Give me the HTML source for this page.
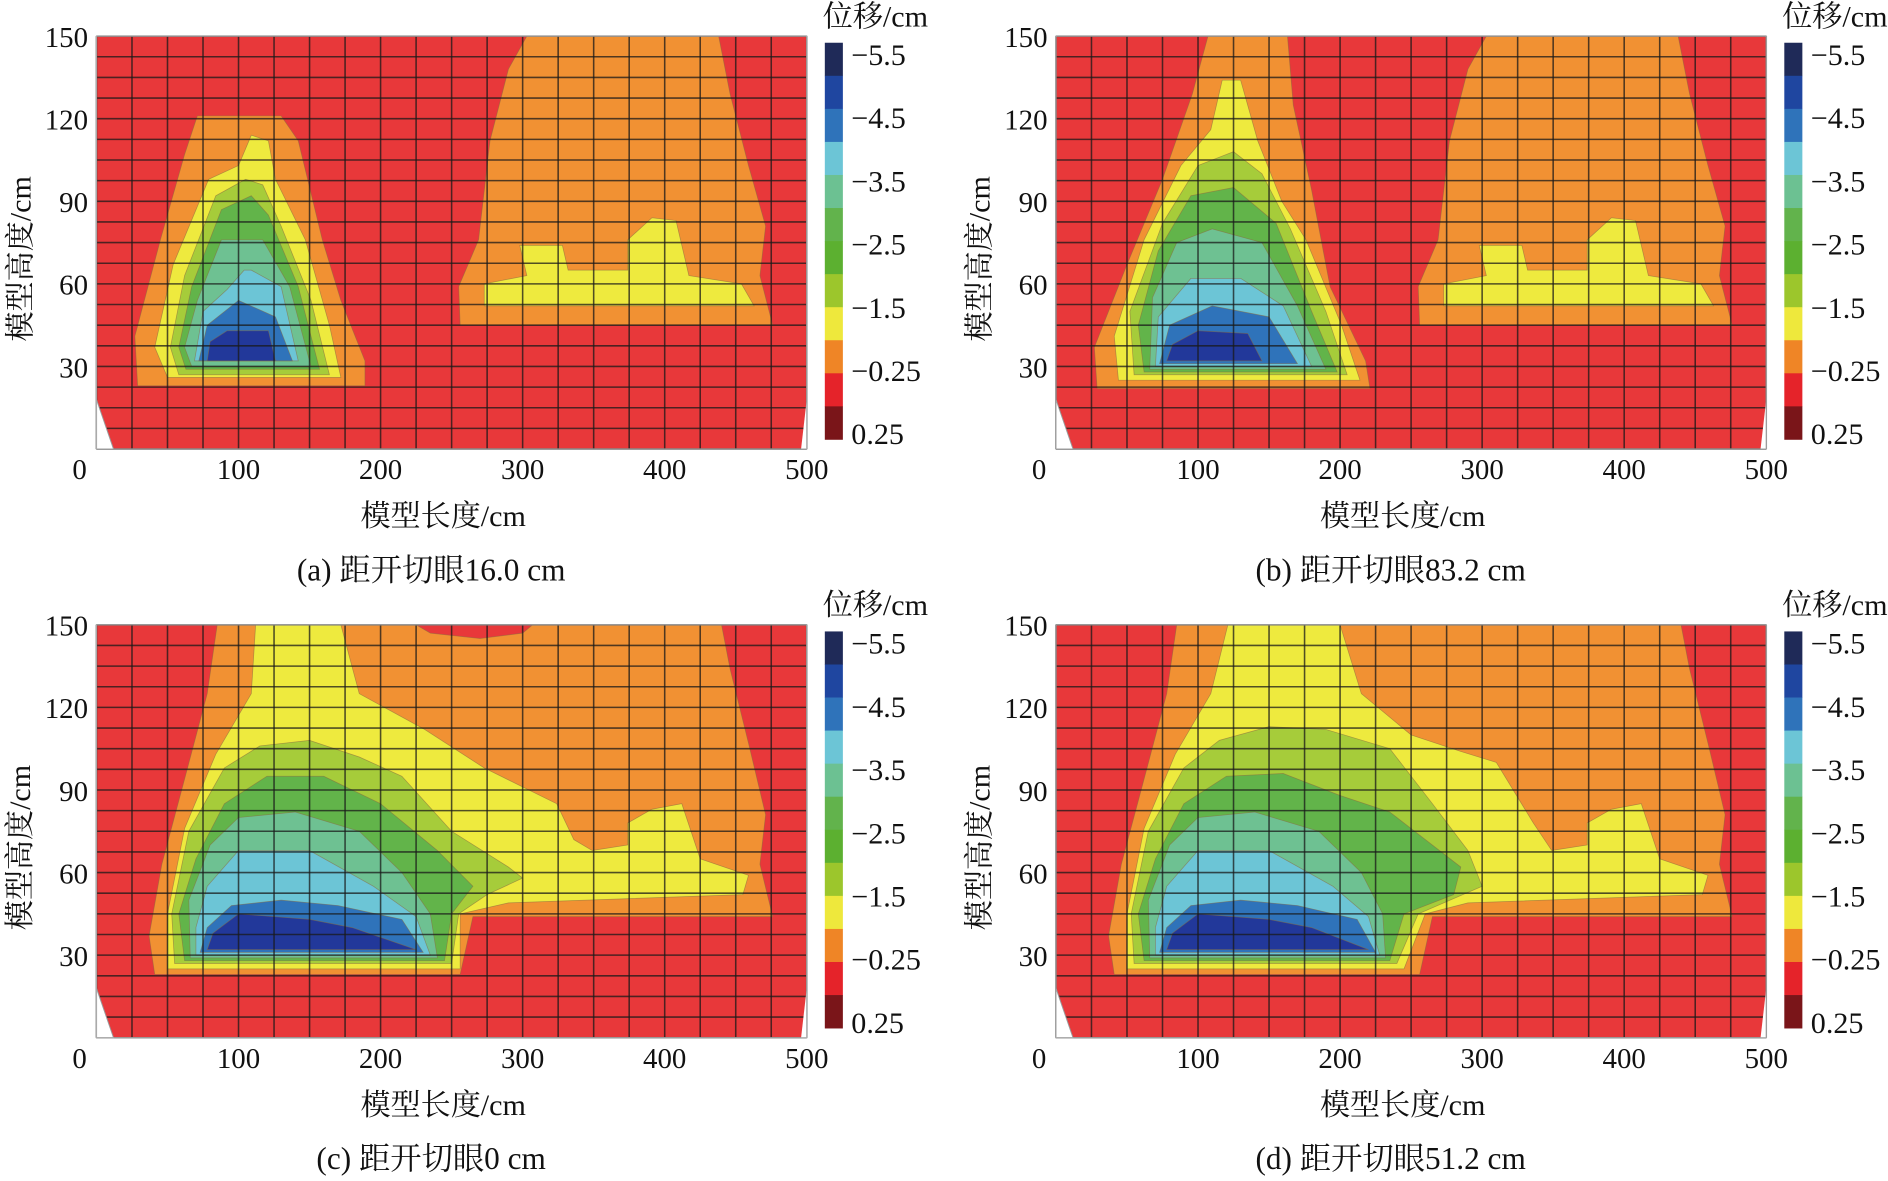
<!DOCTYPE html>
<html><head><meta charset="utf-8">
<style>
html,body{margin:0;padding:0;background:#fff;}
svg{display:block;}
text{font-family:"Liberation Serif","Noto Serif CJK SC",serif;fill:#111;}
</style></head>
<body>
<svg id="fig" width="1888" height="1181" viewBox="0 0 1568 981" xmlns="http://www.w3.org/2000/svg"></svg>
<script>
// ---- data ----
const xTicks=[0,100,200,300,400,500];
const yTicks=[30,60,90,120,150];
const cbLabels=["-5.5","-4.5","-3.5","-2.5","-1.5","-0.25","0.25"];
const cbColors=["#1f2a58","#1f46a0","#2f73ba","#6cc5d6","#6cc192","#62b34c","#5cb030","#9cc62c","#eee83c","#ef8526","#e5232a","#7a1519"];
const levelColors={red:"#e8383a",orange:"#f19133",yellow:"#eeea3e",lime:"#a6cc3a",green:"#62b44a",teal:"#6ec192",cyan:"#6cc5d6",blue:"#2f73ba",navy:"#22389a"};
const captions=["(a)  距开切眼16.0 cm","(b)  距开切眼83.2 cm","(c)  距开切眼0 cm","(d)  距开切眼51.2 cm"];
const rightOrangeAB=[[256,45],[476,45],[467,63],[471,81],[459,103],[446,129],[438,150],[303,150],[290,138],[277,112],[269,76],[255,59]];
const rightYellowAB=[[273,52],[463,52],[454,60],[417,63],[408,83],[391,84],[374,76],[374,65],[332,65],[328,74],[298,74],[303,63],[273,60]];
const panelA=[
 ["orange",[[29,23],[189,23],[189,32],[172,54],[159,76],[142,112],[130,121],[71,121],[62,107],[45,76],[27,41]]],
 ["orange",rightOrangeAB],["yellow",rightYellowAB],
 ["yellow",[[50,26],[172,26],[164,45],[147,76],[126,98],[121,112],[109,114],[100,103],[79,98],[54,67],[41,37]]],
 ["lime",[[58,27],[164,27],[151,54],[130,81],[117,96],[105,98],[84,92],[62,63],[52,37]]],
 ["green",[[63,29],[157,29],[142,59],[121,85],[109,92],[88,87],[67,59],[58,37]]],
 ["teal",[[67,30],[151,30],[136,59],[117,76],[88,76],[71,54],[62,37]]],
 ["cyan",[[69,32],[142,32],[130,59],[109,65],[104,65],[92,58],[75,50]]],
 ["blue",[[72,32],[138,32],[126,48],[100,54],[78,45]]],
 ["navy",[[78,32],[126,32],[121,43],[92,43],[80,39]]]
];
const panelB=[
 ["orange",[[29,22],[221,22],[218,32],[193,59],[180,94],[167,125],[163,150],[107,150],[96,129],[75,98],[50,67],[27,37]]],
 ["orange",rightOrangeAB],["yellow",rightYellowAB],
 ["yellow",[[44,25],[214,25],[201,45],[176,76],[159,90],[142,112],[130,134],[117,134],[109,116],[88,103],[62,76],[41,41]]],
 ["lime",[[55,27],[205,27],[190,50],[165,80],[145,100],[125,108],[100,103],[75,82],[52,50]]],
 ["green",[[62,28],[198,28],[180,50],[155,82],[125,95],[95,92],[72,72],[58,45]]],
 ["teal",[[66,29],[190,29],[170,52],[145,75],[110,80],[85,75],[68,55]]],
 ["cyan",[[70,30],[180,30],[160,52],[130,62],[95,62],[72,48]]],
 ["blue",[[73,31],[170,31],[150,48],[110,52],[80,45]]],
 ["navy",[[78,32],[145,32],[135,42],[100,43],[82,38]]]
];
const orangeCD=[[41,23],[256,23],[265,44],[476,44],[467,63],[471,81],[459,107],[446,134],[440,150],[85,150],[78,125],[62,94],[46,63],[37,37]];
const panelC=[
 ["orange",orangeCD],
 ["red",[[225,150],[307,150],[300,147],[270,145],[235,147]]],
 ["yellow",[[50,25],[256,25],[256,45],[290,49],[455,52],[459,59],[425,65],[412,85],[391,83],[374,78],[374,70],[349,68],[336,72],[324,85],[273,98],[231,112],[185,125],[172,150],[112,150],[109,125],[84,103],[62,76],[50,45]]],
 ["lime",[[55,27],[250,27],[255,45],[275,52],[300,58],[290,62],[250,75],[215,95],[185,102],[150,108],[115,106],[90,98],[65,75],[53,45]]],
 ["green",[[62,28],[245,28],[250,45],[265,55],[240,68],[200,85],[160,95],[120,95],[90,85],[70,65],[58,45]]],
 ["teal",[[66,29],[240,29],[235,45],[215,60],[185,75],[140,82],[100,80],[80,70],[65,50]]],
 ["cyan",[[70,30],[235,30],[225,44],[195,55],[150,68],[100,68],[78,55],[70,40]]],
 ["blue",[[73,31],[230,31],[215,43],[170,48],[130,50],[95,48],[78,40]]],
 ["navy",[[78,32],[225,32],[180,40],[150,43],[100,45],[82,38]]]
];
const panelD=[
 ["orange",orangeCD],
 ["yellow",[[50,25],[245,25],[260,45],[290,49],[455,52],[459,59],[425,65],[412,85],[391,83],[374,78],[374,70],[349,68],[336,78],[310,100],[285,104],[250,110],[215,125],[200,150],[121,150],[109,125],[84,103],[62,76],[50,45]]],
 ["lime",[[55,27],[240,27],[255,45],[300,55],[290,68],[265,85],[235,105],[190,112],[150,113],[115,108],[90,98],[65,75],[53,45]]],
 ["green",[[62,28],[235,28],[245,45],[280,52],[285,62],[260,72],[235,82],[200,88],[160,96],[120,95],[90,85],[70,65],[58,45]]],
 ["teal",[[66,29],[232,29],[230,45],[215,60],[185,75],[140,82],[100,80],[80,70],[65,50]]],
 ["cyan",[[70,30],[228,30],[220,44],[195,55],[150,68],[100,68],[78,55],[70,40]]],
 ["blue",[[73,31],[225,31],[212,43],[170,48],[130,50],[95,48],[78,40]]],
 ["navy",[[78,32],[220,32],[180,40],[150,43],[100,45],[82,38]]]
];
const panels=[[0,0,panelA],[797,0,panelB],[0,489,panelC],[797,489,panelD]];

// ---- drawing ----
const NS="http://www.w3.org/2000/svg";
const svg=document.getElementById('fig');
function mk(tag,attrs,parent){const e=document.createElementNS(NS,tag);for(const k in attrs)e.setAttribute(k,attrs[k]);(parent||svg).appendChild(e);return e;}
const PX0=80,PX1=670,PY0=30,PY1=373;
panels.forEach((p,i)=>{
 const ox=p[0],oy=p[1],layers=p[2];
 const xs=v=>ox+PX0+v*(PX1-PX0)/500;
 const ys=v=>oy+PY1-v*(PY1-PY0)/150;
 const g=mk('g',{});
 
 
 const bg=mk('rect',{x:xs(0),y:ys(150),width:xs(500)-xs(0),height:ys(0)-ys(150),fill:'#e8383a'},g);
 
 
 layers.forEach(l=>{
  const pts=l[1].map(q=>xs(q[0]).toFixed(1)+','+ys(q[1]).toFixed(1)).join(' ');
  const poly=mk('polygon',{points:pts,fill:levelColors[l[0]],stroke:'#8a6a40','stroke-width':0.6,'stroke-opacity':0.6},g);
  
  
 });
 // grid
 for(let k=0;k<=20;k++){const x=xs(k*25);mk('line',{x1:x,x2:x,y1:ys(0),y2:ys(150),stroke:'#1a1a1a','stroke-opacity':0.75,'stroke-width':1.3},g);}
 for(let k=0;k<=20;k++){const y=ys(k*7.5);mk('line',{x1:xs(0),x2:xs(500),y1:y,y2:y,stroke:'#1a1a1a','stroke-opacity':0.75,'stroke-width':1.3},g);}
 // white corners
 mk('polygon',{points:`${xs(0)},${ys(18)} ${xs(0)},${ys(0)} ${xs(12)},${ys(0)}`,fill:'#fff',stroke:'#999','stroke-width':0.8},g);
 mk('polygon',{points:`${xs(500)},${ys(18)} ${xs(500)},${ys(0)} ${xs(496)},${ys(0)}`,fill:'#fff'},g);
 mk('rect',{x:xs(0),y:ys(150),width:xs(500)-xs(0),height:ys(0)-ys(150),fill:'none',stroke:'#aaa','stroke-width':1},g);
 // ticks
 xTicks.forEach(v=>{const t=mk('text',{x:v===0?xs(v)-14:xs(v),y:oy+398,'font-size':24,'text-anchor':'middle'},g);t.textContent=v;
  });
 yTicks.forEach(v=>{const t=mk('text',{x:ox+73,y:ys(v)+9,'font-size':24,'text-anchor':'end'},g);t.textContent=v;
  });
 const xt=mk('text',{x:ox+368,y:oy+437,'font-size':25,'text-anchor':'middle'},g);xt.textContent='模型长度/cm';
 
 const yt=mk('text',{x:ox+25,y:oy+215,'font-size':25,'text-anchor':'middle',transform:`rotate(-90 ${ox+25} ${oy+215})`},g);yt.textContent='模型高度/cm';
 
 const cap=mk('text',{x:ox+358,y:oy+482,'font-size':26,'text-anchor':'middle'},g);cap.textContent=captions[i];
 
 // colorbar
 const cb=mk('g',{},g);
 
 
 const cbT=35.5,cbB=365,bh=(cbB-cbT)/cbColors.length;
 cbColors.forEach((c,k)=>{mk('rect',{x:ox+685,y:oy+cbT+k*bh,width:15,height:bh+0.3,fill:c},cb);});
 cbLabels.forEach((s,k)=>{const t=mk('text',{x:ox+707,y:oy+54+k*52.5,'font-size':25},cb);t.textContent=s.replace('-','\u2212');
  });
 const ct=mk('text',{x:ox+727,y:oy+22,'font-size':25,'text-anchor':'middle'},cb);ct.textContent='位移/cm';
 
});
</script>
</body></html>
